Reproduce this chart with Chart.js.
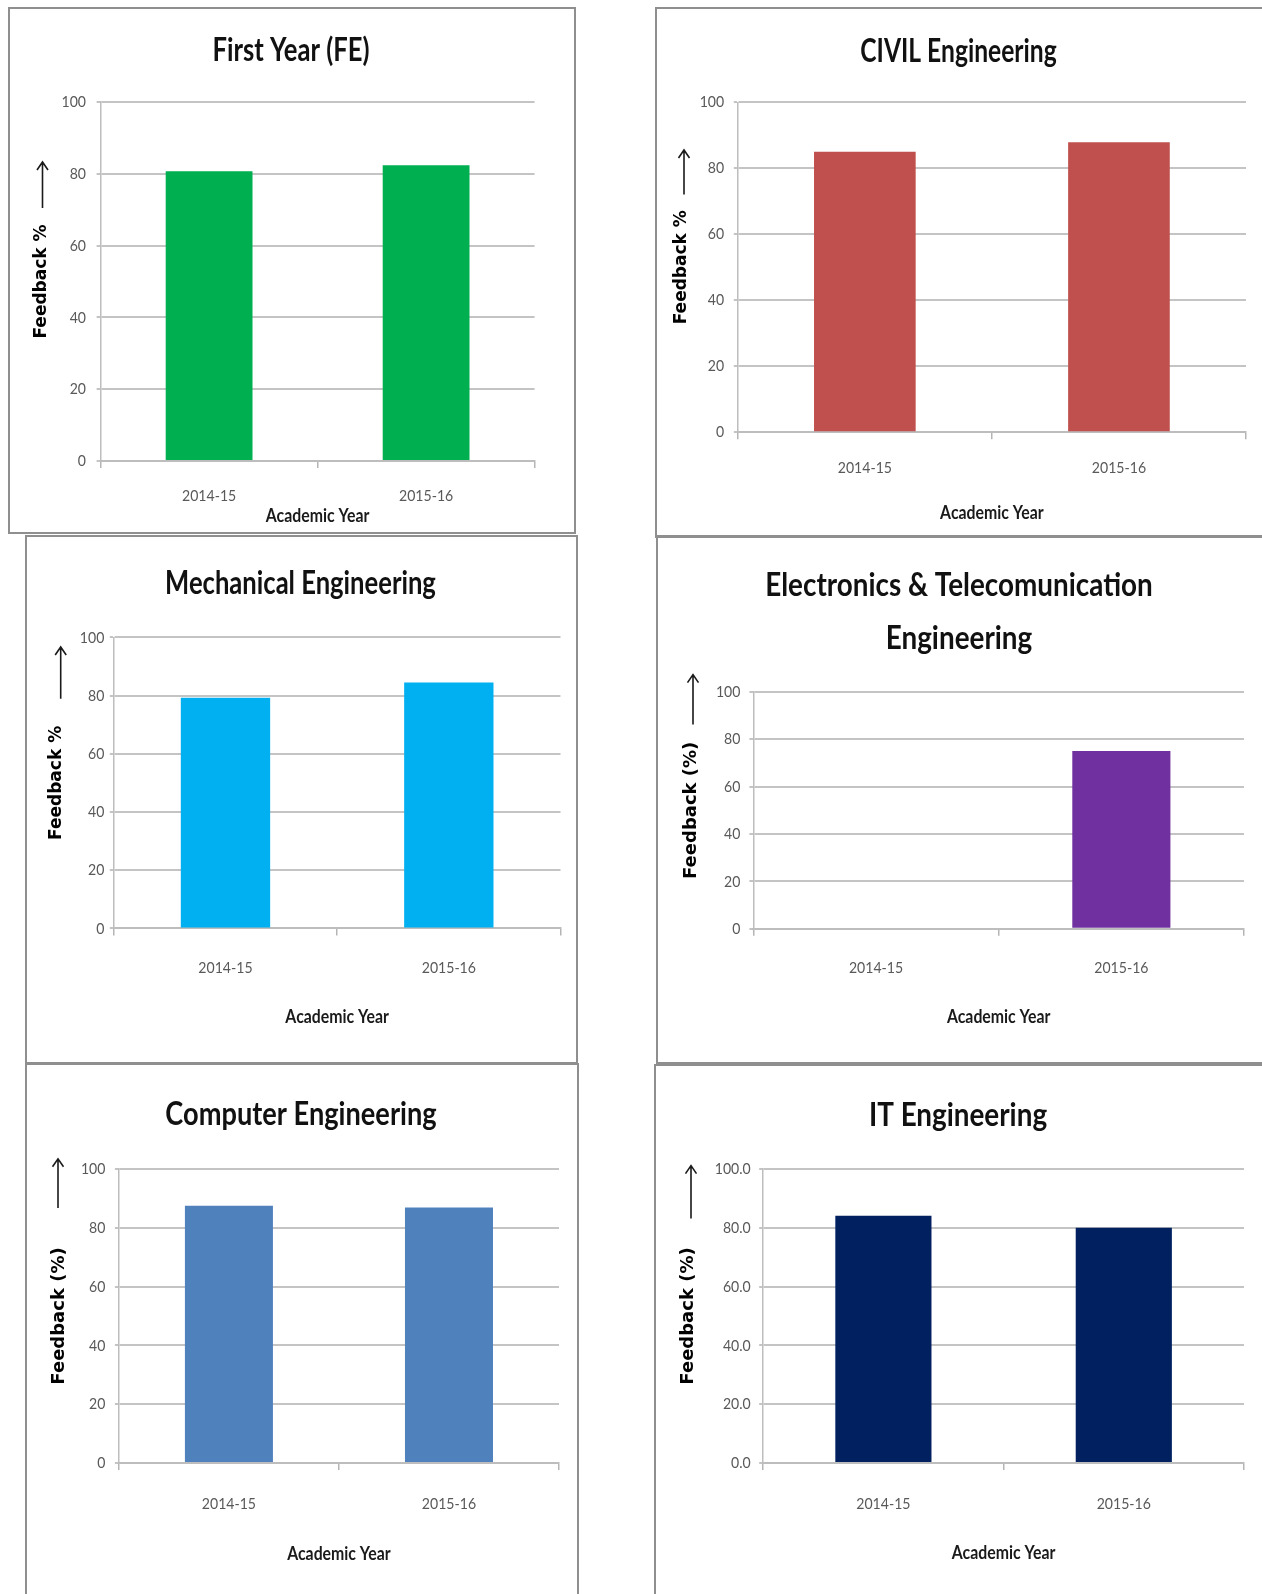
<!DOCTYPE html>
<html>
<head>
<meta charset="utf-8">
<script src="https://cdn.jsdelivr.net/npm/chart.js@4.4.1/dist/chart.umd.min.js"></script>
<style>
  html, body { margin: 0; padding: 0; background: #fff; width: 1262px; height: 1594px; overflow: hidden; position: relative; }
  canvas { position: absolute; }
  .frame { position: absolute; border: 2px solid #8f8f8f; box-sizing: border-box; pointer-events: none; }
</style>
</head>
<body>
<script>
// Academic years shown on every x axis
const years = ['2014-15', '2015-16'];

// Feedback percentage per department and year
const firstYear  = [80.7, 82.4];
const civil      = [85.0, 87.9];
const mechanical = [79.3, 84.5];
const entc       = [null, 75.0];
const computer   = [87.5, 86.9];
const itEng      = [84.1, 80.0];

// Y axis range and tick spacing
const yMin = 0;
const yMax = 100;
const yStep = 20;

const FONT_NARROW = "Lato, 'Noto Sans', sans-serif";
const FONT_WIDE = "'DejaVu Sans', Verdana, sans-serif";

// Panel layout: frame box [x, y, w, h], plot area [left, top, right, bottom] in page pixels,
// title block centre and width factor, axis-title offsets and the arrow beside the y-axis title.
const panels = [
  { title: 'First Year (FE)', values: firstYear, color: '#00b050', yTitle: 'Feedback %', decimals: 0,
    box: [8, 7, 566, 525], plot: [100.6, 102, 534.6, 461], titleY: 51, titleLH: 1.2, titleSquish: 0.80,
    yTitleX: 41.5, yTitleSize: 17, yTickPad: 10.6, xTickPad: 18, xTitleY: 516, arrow: [34.5, 155, 201] },
  { title: 'CIVIL Engineering', values: civil, color: '#c0504d', yTitle: 'Feedback %', decimals: 0,
    box: [655, 7, 607, 529], plot: [737.8, 102.3, 1246, 432.2], titleY: 51.5, titleLH: 1.2, titleSquish: 0.77,
    yTitleX: 681.6, yTitleSize: 17, yTickPad: 9.6, xTickPad: 19.4, xTitleY: 513, arrow: [29, 143, 187.5] },
  { title: 'Mechanical Engineering', values: mechanical, color: '#00b0f0', yTitle: 'Feedback %', decimals: 0,
    box: [25, 535, 551, 527], plot: [113.8, 637.4, 560.5, 928.4], titleY: 584, titleLH: 1.2, titleSquish: 0.80,
    yTitleX: 57, yTitleSize: 17, yTickPad: 5.5, xTickPad: 23, xTitleY: 1017, arrow: [35.7, 112, 163.7] },
  { title: ['Electronics & Telecomunication', 'Engineering'], values: entc, color: '#7030a0', yTitle: 'Feedback (%)', decimals: 0,
    box: [656, 535, 606, 527], plot: [753.4, 691.8, 1244, 928.8], titleY: 612, titleLH: 1.666, titleSquish: 0.87,
    yTitleX: 691.8, yTitleSize: 18, yTickPad: 9, xTickPad: 22.8, xTitleY: 1017, arrow: [37, 139.6, 189.6] },
  { title: 'Computer Engineering', values: computer, color: '#4f81bd', yTitle: 'Feedback (%)', decimals: 0,
    box: [25, 1063, 552, 537], plot: [118.9, 1169, 559, 1463], titleY: 1114.5, titleLH: 1.2, titleSquish: 0.85,
    yTitleX: 59.6, yTitleSize: 18, yTickPad: 9.5, xTickPad: 24, xTitleY: 1554, arrow: [33, 95.8, 145] },
  { title: 'IT Engineering', values: itEng, color: '#002060', yTitle: 'Feedback (%)', decimals: 1,
    box: [654, 1064, 608, 536], plot: [763.2, 1169, 1244, 1463], titleY: 1116, titleLH: 1.2, titleSquish: 0.87,
    yTitleX: 688.6, yTitleSize: 18, yTickPad: 8.5, xTickPad: 24, xTitleY: 1553, arrow: [37, 101.6, 154.4] }
];

// Draws the upward arrow that sits above the rotated y-axis title
const upArrow = {
  id: 'upArrow',
  afterDraw(chart, args, opts) {
    const ctx = chart.ctx;
    const x = opts.x, y0 = opts.top, y1 = opts.bottom;
    ctx.save();
    ctx.strokeStyle = '#1a1a1a';
    ctx.lineWidth = 1.6;
    ctx.beginPath();
    ctx.moveTo(x, y1);
    ctx.lineTo(x, y0);
    ctx.moveTo(x - 5.5, y0 + 8);
    ctx.lineTo(x, y0);
    ctx.lineTo(x + 5.5, y0 + 8);
    ctx.stroke();
    ctx.restore();
  }
};

// Narrows the Lato text horizontally around its anchor so it reads like a condensed face
const condensedText = {
  id: 'condensedText',
  beforeDraw(chart, args, opts) {
    const ctx = chart.ctx;
    const baseFill = CanvasRenderingContext2D.prototype.fillText;
    ctx.fillText = function (text, x, y, maxWidth) {
      if (this.font.indexOf('Lato') === -1) {
        return maxWidth === undefined ? baseFill.call(this, text, x, y) : baseFill.call(this, text, x, y, maxWidth);
      }
      const size = parseFloat((this.font.match(/([\d.]+)px/) || [0, 16])[1]);
      const sx = size >= 25 ? opts.large : opts.small;
      this.save();
      this.translate(x, y);
      this.scale(sx, 1);
      if (maxWidth === undefined) baseFill.call(this, text, 0, 0);
      else baseFill.call(this, text, 0, 0, maxWidth / sx);
      this.restore();
    };
  },
  afterDraw(chart) {
    delete chart.ctx.fillText;
  }
};

panels.forEach(p => {
  const [bx, by, bw, bh] = p.box;
  const [pl, pt, pr, pb] = p.plot;

  const canvas = document.createElement('canvas');
  canvas.width = bw;
  canvas.height = bh;
  canvas.style.left = bx + 'px';
  canvas.style.top = by + 'px';
  document.body.appendChild(canvas);

  const frame = document.createElement('div');
  frame.className = 'frame';
  frame.style.left = bx + 'px';
  frame.style.top = by + 'px';
  frame.style.width = (bw + 2) + 'px';
  frame.style.height = (bh + 2) + 'px';
  document.body.appendChild(frame);

  const lines = Array.isArray(p.title) ? p.title.length : 1;
  const tSize = 32;
  const tBlock = lines * tSize * p.titleLH;
  const tTop = p.titleY - by - tBlock / 2;
  const tBottom = pt - by - tTop - tBlock;

  const yTitleLine = p.yTitleSize * 1.2;
  const xTitleSize = 18;
  const tickSize = 16;
  const rightGap = bx + bw - pr;

  new Chart(canvas, {
    type: 'bar',
    data: {
      labels: years,
      datasets: [{
        data: p.values,
        backgroundColor: p.color,
        borderWidth: 0,
        barPercentage: 0.4,
        categoryPercentage: 1
      }]
    },
    options: {
      responsive: false,
      animation: false,
      devicePixelRatio: 1,
      layout: { padding: 0 },
      plugins: {
        legend: { display: false },
        tooltip: { enabled: false },
        title: {
          display: true,
          text: p.title,
          color: '#111111',
          font: { family: FONT_NARROW, weight: 'bold', size: tSize, lineHeight: p.titleLH },
          padding: { top: tTop, bottom: tBottom }
        },
        upArrow: { x: p.arrow[0], top: p.arrow[1], bottom: p.arrow[2] },
        condensedText: { large: p.titleSquish, small: 0.88 }
      },
      scales: {
        x: {
          grid: { display: true, drawOnChartArea: false, drawTicks: true, tickLength: 7, color: '#b5b5b5', lineWidth: 1.5, offset: true },
          border: { display: true, color: '#bdbdbd', width: 2 },
          ticks: { color: '#595959', font: { family: FONT_NARROW, size: tickSize }, padding: p.xTickPad, maxRotation: 0 },
          title: {
            display: true, text: 'Academic Year', color: '#1a1a1a',
            font: { family: FONT_NARROW, weight: 'bold', size: xTitleSize },
            padding: { top: 0, bottom: by + bh - p.xTitleY - xTitleSize * 0.6 }
          },
          afterFit(s) { s.height = by + bh - pb; }
        },
        y: {
          min: yMin, max: yMax,
          ticks: {
            stepSize: yStep, color: '#595959', font: { family: FONT_NARROW, size: tickSize }, padding: p.yTickPad,
            callback: v => Number(v).toFixed(p.decimals)
          },
          grid: { color: '#c4c4c4', lineWidth: 2, tickLength: 4, drawTicks: true },
          border: { display: true, color: '#bdbdbd', width: 1.5 },
          title: {
            display: true, text: p.yTitle, color: '#000000',
            font: { family: FONT_WIDE, weight: 'bold', size: p.yTitleSize },
            padding: { top: p.yTitleX - bx - yTitleLine / 2, bottom: 0 }
          },
          afterFit(s) { s.width = pl - bx; }
        },
        // empty right-hand margin so the title stays centred on the frame
        margin: {
          type: 'linear', position: 'right', display: true, min: 0, max: 1,
          grid: { display: false, drawTicks: false },
          border: { display: false },
          ticks: { display: false },
          afterFit(s) { s.width = rightGap; }
        }
      }
    },
    plugins: [upArrow, condensedText]
  });
});
</script>
</body>
</html>
